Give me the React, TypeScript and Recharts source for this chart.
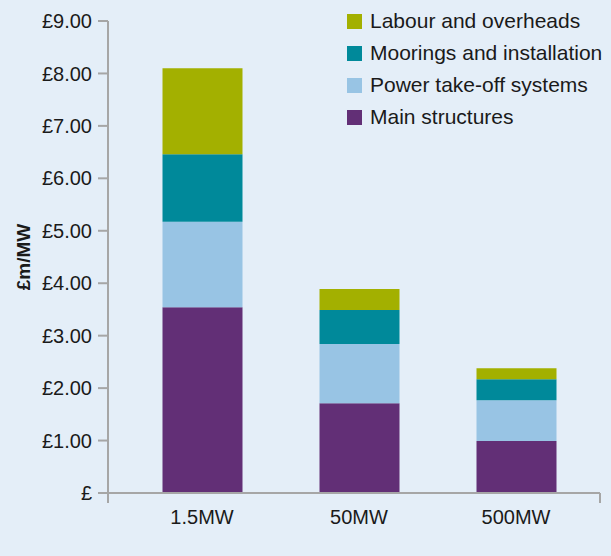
import React from "react";
import { BarChart, Bar, XAxis, YAxis, ReferenceLine } from "recharts";

const sizes = ["1.5MW", "50MW", "500MW"];
const mainStructures = [3.54, 1.71, 0.99];
const powerTakeOff = [1.63, 1.13, 0.78];
const moorings = [1.29, 0.65, 0.4];
const labour = [1.64, 0.4, 0.21];
const yTicks = [0, 1, 2, 3, 4, 5, 6, 7, 8, 9];
// hidden index axis spans 0..2 across the plot; the ends get a small drop tick
const edgeTicks = [0, 2];

const series = [
  { key: "main", name: "Main structures", values: mainStructures, color: "#622f76" },
  { key: "pto", name: "Power take-off systems", values: powerTakeOff, color: "#98c4e4" },
  { key: "moor", name: "Moorings and installation", values: moorings, color: "#00899a" },
  { key: "labour", name: "Labour and overheads", values: labour, color: "#a3b000" },
];

const data = sizes.map((size, i) => {
  const row: Record<string, string | number> = { size };
  series.forEach((s) => (row[s.key] = s.values[i]));
  return row;
});

const FONT = "'Liberation Sans', Arial, sans-serif";
const AXIS = "#a6a6a6";

function CostLegend() {
  return (
    <div
      style={{
        position: "absolute",
        top: 5,
        left: 347,
        fontFamily: FONT,
        fontSize: 21,
        color: "#1a1a1a",
      }}
    >
      {[...series].reverse().map((s) => (
        <div key={s.key} style={{ display: "flex", alignItems: "center", height: 32 }}>
          <span style={{ width: 15, height: 15, background: s.color, marginRight: 8 }} />
          <span>{s.name}</span>
        </div>
      ))}
    </div>
  );
}

export default function App() {
  return (
    <div style={{ position: "absolute", left: 0, top: 0, width: 611, height: 556, background: "#e4eef8" }}>
      <BarChart
        width={611}
        height={556}
        data={data}
        margin={{ top: 21, right: 11, bottom: 0, left: 0 }}
        barSize={80}
      >
        <XAxis xAxisId="edge" type="number" domain={[0, 2]} allowDataOverflow hide />
        <XAxis
          dataKey="size"
          height={63}
          padding={{ left: 15.5, right: 5.5 }}
          axisLine={{ stroke: AXIS, strokeWidth: 2 }}
          tickLine={false}
          tickSize={0}
          tickMargin={17}
          tick={{ fill: "#1a1a1a", fontSize: 20, fontFamily: FONT }}
        />
        <YAxis
          width={108}
          domain={[0, 9]}
          ticks={yTicks}
          interval={0}
          allowDataOverflow
          axisLine={{ stroke: AXIS, strokeWidth: 2 }}
          tickLine={{ stroke: AXIS, strokeWidth: 2 }}
          tickSize={10}
          tickMargin={6}
          tick={{ fill: "#1a1a1a", fontSize: 20, fontFamily: FONT }}
          tickFormatter={(v: number) => (v === 0 ? "£" : `£${v.toFixed(2)}`)}
          label={{
            value: "£m/MW",
            angle: -90,
            position: "insideLeft",
            offset: 23,
            style: { fill: "#1a1a1a", fontSize: 19, fontWeight: "bold", fontFamily: FONT, textAnchor: "middle" },
          }}
        />
        {edgeTicks.map((x) => (
          <ReferenceLine
            key={x}
            xAxisId="edge"
            segment={[{ x, y: 0 }, { x, y: -0.19 }]}
            ifOverflow="visible"
            stroke={AXIS}
            strokeWidth={2}
          />
        ))}
        {series.map((s) => (
          <Bar key={s.key} dataKey={s.key} name={s.name} stackId="cost" fill={s.color} isAnimationActive={false} />
        ))}
      </BarChart>
      <CostLegend />
    </div>
  );
}
